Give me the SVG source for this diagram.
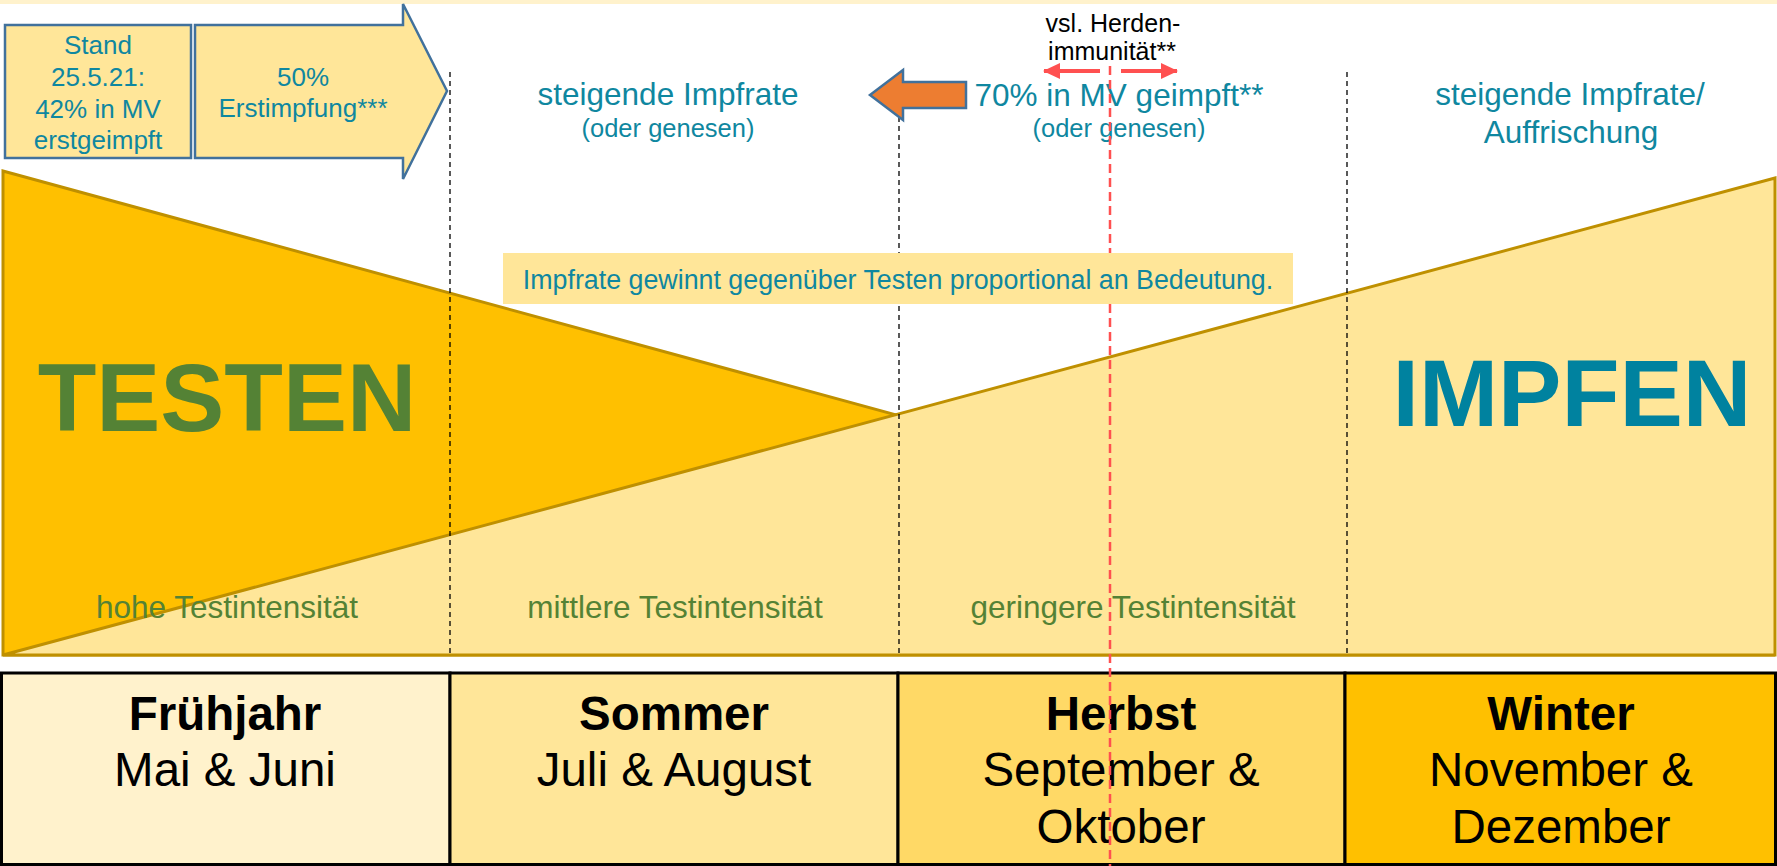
<svg xmlns="http://www.w3.org/2000/svg" width="1777" height="866" viewBox="0 0 1777 866">
<defs>
<style>
.t{font-family:"Liberation Sans",Arial,sans-serif;}
.teal{fill:#0F87A0;}
.blk{fill:#000;}
.grn{fill:#548235;}
.cell{stroke:#000;stroke-width:3;}
.dash{stroke:#000;stroke-width:1.3;stroke-dasharray:5,4;fill:none;}
.blue{stroke:#41719C;stroke-width:2.5;}
</style>
<marker id="redHead" markerUnits="userSpaceOnUse" markerWidth="18" markerHeight="16" refX="16" refY="8" orient="auto">
<path d="M0,0 L17,8 L0,16 Z" fill="#FF5050"/>
</marker>
</defs>
<rect x="0" y="0" width="1777" height="866" fill="#FFFFFF"/>
<rect x="0" y="0" width="1777" height="4" fill="#FFF2CC"/>

<g id="shapes">
<polygon points="3,171 3,655 1775,655" fill="#FFC000" stroke="#BF9000" stroke-width="3"/>
<polygon points="3,655 1775,178 1775,655" fill="#FFE699" stroke="#BF9000" stroke-width="3"/>
</g>

<g id="table">
<rect class="cell" x="1.5" y="673" width="448.5" height="191.5" fill="#FFF2CC"/>
<rect class="cell" x="450" y="673" width="448" height="191.5" fill="#FFE699"/>
<rect class="cell" x="898" y="673" width="447" height="191.5" fill="#FFD966"/>
<rect class="cell" x="1345" y="673" width="430.5" height="191.5" fill="#FFC000"/>
</g>

<g id="season-fruehjahr" class="t blk" text-anchor="middle">
<text x="225" y="730" font-size="47.5" font-weight="bold">Frühjahr</text>
<text x="225" y="786" font-size="47.5">Mai &amp; Juni</text>
</g>
<g id="season-sommer" class="t blk" text-anchor="middle">
<text x="674" y="730" font-size="47.5" font-weight="bold">Sommer</text>
<text x="674" y="786" font-size="47.5">Juli &amp; August</text>
</g>
<g id="season-herbst" class="t blk" text-anchor="middle">
<text x="1121" y="730" font-size="47.5" font-weight="bold">Herbst</text>
<text x="1121" y="786" font-size="47.5">September &amp;</text>
<text x="1121" y="843" font-size="47.5">Oktober</text>
</g>
<g id="season-winter" class="t blk" text-anchor="middle">
<text x="1561" y="730" font-size="47.5" font-weight="bold">Winter</text>
<text x="1561" y="786" font-size="47.5">November &amp;</text>
<text x="1561" y="843" font-size="47.5">Dezember</text>
</g>

<g id="label-testen" class="t" text-anchor="middle">
<text x="227" y="431" font-size="96" font-weight="bold" fill="#548235">TESTEN</text>
</g>
<g id="label-impfen" class="t" text-anchor="middle">
<text x="1572" y="426" font-size="95" font-weight="bold" fill="#00829F">IMPFEN</text>
</g>

<g id="intensity" class="t grn" text-anchor="middle" font-size="31.5">
<text x="227" y="618">hohe Testintensität</text>
<text x="675" y="618">mittlere Testintensität</text>
<text x="1133" y="618">geringere Testintensität</text>
</g>

<g id="col-sommer-head" class="t teal" text-anchor="middle">
<text x="668" y="105" font-size="31.5">steigende Impfrate</text>
<text x="668" y="137" font-size="25.5">(oder genesen)</text>
</g>
<g id="col-herbst-head" class="t teal" text-anchor="middle">
<text x="1119" y="106" font-size="31.5">70% in MV geimpft**</text>
<text x="1119" y="137" font-size="25.5">(oder genesen)</text>
</g>
<g id="col-winter-head" class="t teal" text-anchor="middle">
<text x="1570" y="105" font-size="31.5">steigende Impfrate/</text>
<text x="1571" y="143" font-size="31.5">Auffrischung</text>
</g>

<g id="herdenimmunitaet" class="t blk" text-anchor="middle" font-size="25">
<text x="1113" y="32">vsl. Herden-</text>
<text x="1112" y="60">immunität**</text>
</g>

<g id="connectors">
<line class="dash" x1="450" y1="72" x2="450" y2="655"/>
<line class="dash" x1="899" y1="72" x2="899" y2="655"/>
<line class="dash" x1="1347" y1="72" x2="1347" y2="655"/>
<line x1="1110" y1="66" x2="1110" y2="866" stroke="#FF5050" stroke-width="2.5" stroke-dasharray="9,5"/>
<line x1="1100" y1="71" x2="1044" y2="71" stroke="#FF5050" stroke-width="4" marker-end="url(#redHead)"/>
<line x1="1121" y1="71" x2="1177" y2="71" stroke="#FF5050" stroke-width="4" marker-end="url(#redHead)"/>
</g>

<g id="stand-box">
<rect class="blue" x="5" y="25" width="186" height="133" fill="#FFE699"/>
<g class="t teal" text-anchor="middle" font-size="26">
<text x="98" y="54">Stand</text>
<text x="98" y="86">25.5.21:</text>
<text x="98" y="118">42% in MV</text>
<text x="98" y="149">erstgeimpft</text>
</g>
</g>

<g id="erstimpfung-arrow">
<polygon class="blue" points="195,25 403,25 403,4 447,91 403,179 403,158 195,158" fill="#FFE699"/>
<g class="t teal" text-anchor="middle" font-size="26">
<text x="303" y="86">50%</text>
<text x="303" y="117">Erstimpfung***</text>
</g>
</g>

<g id="back-arrow">
<polygon class="blue" points="966,82 903,82 903,70 870,95 903,120 903,108 966,108" fill="#ED7D31"/>
</g>

<g id="bedeutung-box">
<rect x="503" y="253" width="790" height="51" fill="#FFE699"/>
<text class="t teal" x="898" y="289" font-size="26.8" text-anchor="middle">Impfrate gewinnt gegenüber Testen proportional an Bedeutung.</text>
</g>
</svg>
